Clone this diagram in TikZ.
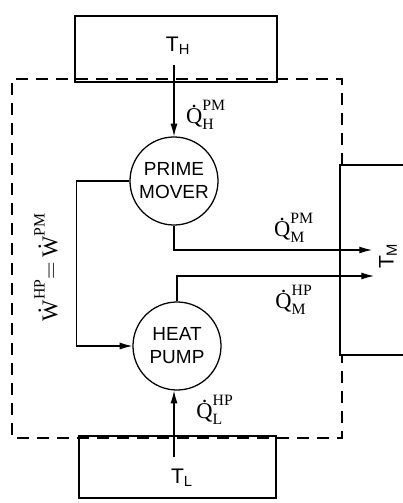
\documentclass[tikz,border=0pt]{standalone}
\usepackage{amsmath}
\usepackage{fontspec}
\setmainfont{Liberation Sans}
\newfontfamily\qfont{Liberation Serif}
\usetikzlibrary{arrows.meta}
% letter with a rate dot centred above it
\newcommand{\ratedot}[1]{\vbox{\offinterlineskip\halign{\hfil##\hfil\cr
	\qfont.\cr\noalign{\kern1pt}\qfont #1\cr}}}
% heat rate labels: Q dot with super- and subscript
\newcommand{\qrate}[3]{$\text{\ratedot{#1}}^{\text{\qfont #2}}_{\text{\qfont #3}}$}
\begin{document}
\begin{tikzpicture}[x=0.025cm,y=-0.025cm]
	% styles
	\tikzstyle{res} = [draw,line width=0.9pt,inner sep=0pt]
	\tikzstyle{unit} = [draw,circle,line width=0.9pt,minimum size=2.2cm,inner sep=0pt,
		align=center,font=\fontsize{13.5}{16.3}\selectfont]
	\tikzstyle{flow} = [line width=0.8pt,-{Latex[length=9pt,width=5pt]}]
	\tikzstyle{sys} = [line width=0.85pt,dash pattern=on 0.3cm off 0.2cm]
	\tikzstyle{lab} = [font=\fontsize{15}{17}\selectfont,inner sep=0pt]
	\tikzstyle{qlab} = [font=\fontsize{16}{18}\selectfont,inner sep=0pt]
	
	% bounding box
	\useasboundingbox (0,0) rectangle (402,503);
	
	% reservoirs
	\node[res,minimum width=5.05cm,minimum height=1.65cm] (th) at (176,49) {};
	\node[lab] (thlab) at (178,46) {T$_\text{H}$};
	\node[res,minimum width=4.925cm,minimum height=1.55cm] (tl) at (177.5,467) {};
	\node[lab] (tllab) at (182,478) {T$_\text{L}$};
	
	% medium temperature reservoir (runs off the page)
	\draw[line width=0.9pt] (404,165) -- (340,165) -- (340,355) -- (404,355);
	\node[lab,rotate=90] (tmlab) at (388,256) {T$_\text{M}$};
	
	% system boundary
	\draw[sys] (342,165) -- (342,79) -- (12,79) -- (12,438) -- (342,438) -- (342,355);
	
	% prime mover and heat pump
	\node[unit] (pm) at (174,181) {PRIME\\MOVER};
	\node[unit] (hp) at (177,346) {HEAT\\PUMP};
	
	% flows
	\coordinate (qhstart) at (174,65);
	\coordinate (qlstart) at (174,457);
	\coordinate (tmin1) at (372,250);
	\coordinate (tmin2) at (374,276);
	\draw[flow] (qhstart) -- (qhstart |- pm.north);
	\draw[flow] (qlstart) -- (qlstart |- hp.south);
	\draw[flow] (pm.west) -- ++(-53,0) |- (hp.west);
	\draw[flow] (pm.south) |- (tmin1);
	\draw[flow] (hp.north) |- (tmin2);
	
	% labels
	\node[qlab] (qh) at (206,115) {\qrate{Q}{PM}{H}};
	\node[qlab] (qmpm) at (294,228) {\qrate{Q}{PM}{M}};
	\node[qlab] (qmhp) at (294,300) {\qrate{Q}{HP}{M}};
	\node[qlab] (qlhp) at (215,410) {\qrate{Q}{HP}{L}};
	\node[qlab,rotate=90] (work) at (46,267)
		{$\text{\ratedot{W}}^{\text{\qfont HP}}{=}\,\text{\ratedot{W}}^{\text{\qfont PM}}$};
\end{tikzpicture}
\end{document}
